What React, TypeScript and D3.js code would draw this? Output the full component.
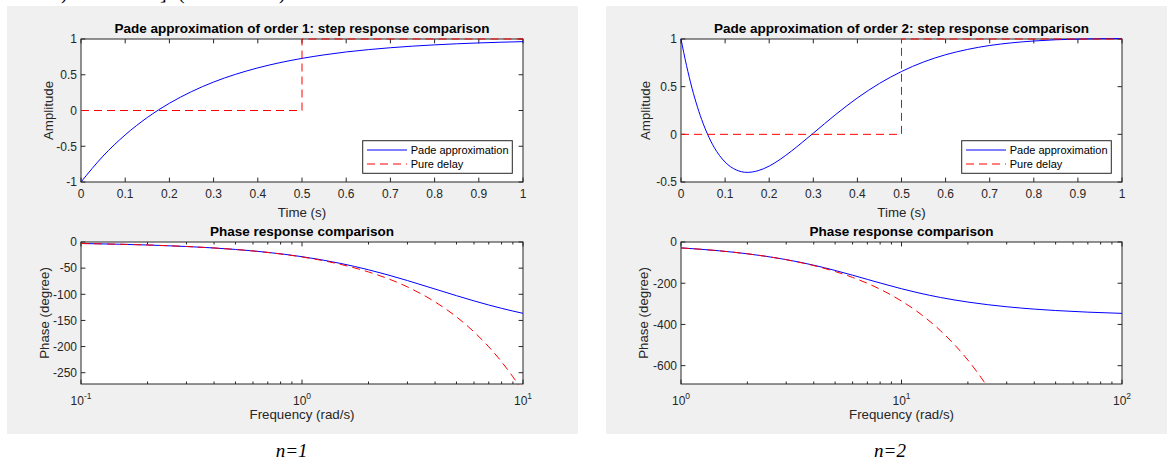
import React from "react";
import * as d3 from "d3";

// ---------- data ----------
const stepTime1 = [0, 0.05, 0.1, 0.15, 0.2, 0.25, 0.3, 0.35, 0.4, 0.45, 0.5, 0.55, 0.6, 0.65, 0.7, 0.75, 0.8, 0.85, 0.9, 0.95, 1.0];
const stepPade1 = [-1, -0.637, -0.341, -0.098, 0.101, 0.264, 0.398, 0.507, 0.596, 0.669, 0.729, 0.778, 0.819, 0.851, 0.878, 0.9, 0.918, 0.933, 0.945, 0.955, 0.963];

const stepTime2 = [0, 0.0125, 0.025, 0.0375, 0.05, 0.06, 0.075, 0.1, 0.125, 0.15, 0.175, 0.2, 0.225, 0.25, 0.275, 0.3, 0.35, 0.4, 0.45, 0.5, 0.55, 0.6, 0.65, 0.7, 0.75, 0.8, 0.85, 0.9, 0.95, 1.0];
const stepPade2 = [1, 0.722, 0.484, 0.284, 0.116, 0.003, -0.135, -0.291, -0.373, -0.399, -0.381, -0.333, -0.262, -0.177, -0.084, 0.012, 0.205, 0.382, 0.534, 0.659, 0.759, 0.835, 0.891, 0.932, 0.96, 0.979, 0.992, 0.999, 1.003, 1.005];

const delayTime = [0, 0.5, 0.5, 1];
const delayAmp = [0, 0, 1, 1];

const freq1 = [0.1, 0.15, 0.2, 0.3, 0.4, 0.5, 0.7, 1, 1.5, 2, 3, 4, 5, 6, 7, 8, 9, 10];
const phasePade1 = [-2.86, -4.3, -5.72, -8.58, -11.42, -14.25, -19.85, -28.07, -41.11, -53.13, -73.74, -90, -102.68, -112.62, -120.51, -126.87, -132.08, -136.4];
const freq1Delay = [0.1, 0.15, 0.2, 0.3, 0.4, 0.5, 0.7, 1, 1.5, 2, 3, 4, 5, 6, 7, 8, 9, 9.5, 10];
const phaseDelay1 = [-2.86, -4.3, -5.73, -8.59, -11.46, -14.32, -20.05, -28.65, -42.97, -57.3, -85.94, -114.59, -143.24, -171.89, -200.54, -229.18, -257.83, -272.16, -286.48];

const freq2 = [1, 1.5, 2, 3, 4, 5, 6, 7, 8, 10, 12, 15, 20, 30, 40, 50, 70, 100];
const phasePade2 = [-28.64, -42.97, -57.23, -85.43, -112.62, -138.06, -161.08, -181.36, -198.92, -226.87, -247.38, -269.05, -291.42, -314.18, -325.63, -332.5, -340.36, -346.25];
const freq2Delay = [1, 1.5, 2, 3, 4, 5, 6, 7, 8, 10, 12, 15, 20, 22, 24, 25];
const phaseDelay2 = [-28.65, -42.97, -57.3, -85.94, -114.59, -143.24, -171.89, -200.54, -229.18, -286.48, -343.77, -429.72, -572.96, -630.26, -687.55, -716.2];

const timeTicks = [0, 0.1, 0.2, 0.3, 0.4, 0.5, 0.6, 0.7, 0.8, 0.9, 1];
const timeTickLabels = ["0", "0.1", "0.2", "0.3", "0.4", "0.5", "0.6", "0.7", "0.8", "0.9", "1"];
const amp1Ticks = [-1, -0.5, 0, 0.5, 1];
const amp1TickLabels = ["-1", "-0.5", "0", "0.5", "1"];
const amp2Ticks = [-0.5, 0, 0.5, 1];
const amp2TickLabels = ["-0.5", "0", "0.5", "1"];
const phase1Ticks = [-250, -200, -150, -100, -50, 0];
const phase1TickLabels = ["-250", "-200", "-150", "-100", "-50", "0"];
const phase2Ticks = [-600, -400, -200, 0];
const phase2TickLabels = ["-600", "-400", "-200", "0"];
const freq1Exps = [-1, 0, 1];
const freq2Exps = [0, 1, 2];

const legendLabels = ["Pade approximation", "Pure delay"];

// ---------- styles ----------
const FONT = '"Liberation Sans", Arial, Helvetica, sans-serif';
const SERIF = '"Liberation Serif", "Times New Roman", serif';
const AX = "#262626";
const BLUE = "#0000ff";
const RED = "#ff0000";
const DASH = "8,5";

type Series = { xs: number[]; ys: number[]; color: string; dash?: string; curve?: boolean };

type AxesProps = {
  id: string;
  x0: number; y0: number; w: number; h: number;
  log?: boolean;
  xDomain: [number, number];
  yDomain: [number, number];
  xTicks?: number[]; xTickLabels?: string[];
  xExps?: number[];
  yTicks: number[]; yTickLabels: string[];
  title: string; xlabel: string; ylabel: string; ylabelX: number;
  series: Series[];
  legend?: boolean;
};

function Axes(p: AxesProps) {
  const { x0, y0, w, h } = p;
  const xs: any = p.log
    ? d3.scaleLog().domain(p.xDomain).range([x0, x0 + w])
    : d3.scaleLinear().domain(p.xDomain).range([x0, x0 + w]);
  const ys = d3.scaleLinear().domain(p.yDomain).range([y0 + h, y0]);
  const TL = 4.4;
  const TLm = 2.5;

  let majorX: number[] = [];
  let minorX: number[] = [];
  if (p.log && p.xExps) {
    majorX = p.xExps.map((e) => Math.pow(10, e));
    for (let i = 0; i < p.xExps.length - 1; i++) {
      const base = Math.pow(10, p.xExps[i]);
      for (let k = 2; k <= 9; k++) minorX.push(base * k);
    }
  } else if (p.xTicks) {
    majorX = p.xTicks;
  }

  const lineGen = (s: Series) => {
    const pts = s.xs.map((x, i) => [xs(x), ys(s.ys[i])] as [number, number]);
    const g = d3.line().curve(s.curve ? d3.curveMonotoneX : d3.curveLinear);
    return g(pts) || "";
  };

  const cx = x0 + w / 2;

  return (
    <g>
      <defs>
        <clipPath id={p.id}>
          <rect x={x0 - 1} y={y0 - 1} width={w + 2} height={h + 2} />
        </clipPath>
      </defs>
      <rect x={x0} y={y0} width={w} height={h} fill="#ffffff" />
      <rect x={x0} y={y0} width={w} height={h} fill="none" stroke={AX} strokeWidth={1} />
      {majorX.map((v, i) => {
        const x = xs(v);
        return (
          <g key={"mx" + i}>
            <line x1={x} x2={x} y1={y0 + h} y2={y0 + h - TL} stroke={AX} />
            <line x1={x} x2={x} y1={y0} y2={y0 + TL} stroke={AX} />
          </g>
        );
      })}
      {minorX.map((v, i) => {
        const x = xs(v);
        return (
          <g key={"nx" + i}>
            <line x1={x} x2={x} y1={y0 + h} y2={y0 + h - TLm} stroke={AX} />
            <line x1={x} x2={x} y1={y0} y2={y0 + TLm} stroke={AX} />
          </g>
        );
      })}
      {p.yTicks.map((v, i) => {
        const y = ys(v);
        return (
          <g key={"y" + i}>
            <line x1={x0} x2={x0 + TL} y1={y} y2={y} stroke={AX} />
            <line x1={x0 + w} x2={x0 + w - TL} y1={y} y2={y} stroke={AX} />
            <text x={x0 - 4} y={y + 4.3} textAnchor="end" fontSize={12} fill={AX} fontFamily={FONT}>
              {p.yTickLabels[i]}
            </text>
          </g>
        );
      })}
      {!p.log && p.xTicks && p.xTicks.map((v, i) => (
        <text key={"xl" + i} x={xs(v)} y={y0 + h + 16.3} textAnchor="middle" fontSize={12} fill={AX} fontFamily={FONT}>
          {p.xTickLabels ? p.xTickLabels[i] : String(v)}
        </text>
      ))}
      {p.log && p.xExps && p.xExps.map((e, i) => (
        <text key={"xe" + i} x={xs(Math.pow(10, e))} y={y0 + h + 21} textAnchor="middle" fontSize={12} fill={AX} fontFamily={FONT}>
          <tspan>10</tspan>
          <tspan dy={-6} fontSize={8.5}>{String(e)}</tspan>
        </text>
      ))}
      <g clipPath={`url(#${p.id})`}>
        {p.series.map((s, i) => (
          <path key={"s" + i} d={lineGen(s)} fill="none" stroke={s.color} strokeWidth={1} strokeDasharray={s.dash} />
        ))}
      </g>
      <text x={cx} y={y0 - 5.9} textAnchor="middle" fontSize={13.5} fontWeight="bold" fill="#000" fontFamily={FONT}>
        {p.title}
      </text>
      <text x={cx} y={y0 + h + 34.8} textAnchor="middle" fontSize={13.3} fill={AX} fontFamily={FONT}>
        {p.xlabel}
      </text>
      <text
        transform={`translate(${p.ylabelX},${y0 + h / 2}) rotate(-90)`}
        textAnchor="middle"
        fontSize={13.3}
        fill={AX}
        fontFamily={FONT}
      >
        {p.ylabel}
      </text>
      {p.legend && (
        <g>
          <rect x={x0 + w - 160.3} y={y0 + h - 41.3} width={149.6} height={32.6} fill="#ffffff" stroke={AX} strokeWidth={1} />
          <line x1={x0 + w - 156} x2={x0 + w - 116} y1={y0 + h - 32} y2={y0 + h - 32} stroke={BLUE} />
          <line x1={x0 + w - 156} x2={x0 + w - 116} y1={y0 + h - 18} y2={y0 + h - 18} stroke={RED} strokeDasharray={DASH} />
          <text x={x0 + w - 112.3} y={y0 + h - 28} fontSize={11} fill="#000" fontFamily={FONT}>{legendLabels[0]}</text>
          <text x={x0 + w - 112.3} y={y0 + h - 14} fontSize={11} fill="#000" fontFamily={FONT}>{legendLabels[1]}</text>
        </g>
      )}
    </g>
  );
}

export default function App() {
  const W = 1167;
  const H = 459;
  return (
    <div style={{ position: "absolute", left: 0, top: 0, width: W, height: H, background: "#fff" }}>
      <svg width={W} height={H} style={{ display: "block" }}>
        <rect x={0} y={0} width={W} height={H} fill="#ffffff" />
        {/* cut-off text above the figure */}
        <g fontFamily={SERIF} fontSize={20} fill="#000">
          <text x={61} y={-1}>)</text>
          <text x={160} y={-1}>]</text>
          <text x={178} y={-1}>(</text>
          <text x={279} y={-1}>)</text>
        </g>
        <rect x={7} y={6} width={571} height={428} fill="#f0f0f0" />
        <rect x={606} y={6} width={561} height={428} fill="#f0f0f0" />

        <Axes
          id="c1"
          x0={81} y0={39} w={442} h={143}
          xDomain={[0, 1]} yDomain={[-1, 1]}
          xTicks={timeTicks} xTickLabels={timeTickLabels}
          yTicks={amp1Ticks} yTickLabels={amp1TickLabels}
          title="Pade approximation of order 1: step response comparison"
          xlabel="Time (s)" ylabel="Amplitude" ylabelX={52.8}
          series={[
            { xs: stepTime1, ys: stepPade1, color: BLUE, curve: true },
            { xs: delayTime, ys: delayAmp, color: RED, dash: DASH },
          ]}
          legend
        />
        <Axes
          id="c2"
          x0={81} y0={242} w={442} h={142}
          log
          xDomain={[0.1, 10]} yDomain={[-271.6, 0]}
          xExps={freq1Exps}
          yTicks={phase1Ticks} yTickLabels={phase1TickLabels}
          title="Phase response comparison"
          xlabel="Frequency (rad/s)" ylabel="Phase (degree)" ylabelX={48.5}
          series={[
            { xs: freq1, ys: phasePade1, color: BLUE, curve: true },
            { xs: freq1Delay, ys: phaseDelay1, color: RED, dash: DASH, curve: true },
          ]}
        />
        <Axes
          id="c3"
          x0={681} y0={39} w={441} h={143}
          xDomain={[0, 1]} yDomain={[-0.5, 1]}
          xTicks={timeTicks} xTickLabels={timeTickLabels}
          yTicks={amp2Ticks} yTickLabels={amp2TickLabels}
          title="Pade approximation of order 2: step response comparison"
          xlabel="Time (s)" ylabel="Amplitude" ylabelX={650}
          series={[
            { xs: stepTime2, ys: stepPade2, color: BLUE, curve: true },
            { xs: delayTime, ys: delayAmp, color: RED, dash: DASH },
          ]}
          legend
        />
        <Axes
          id="c4"
          x0={681} y0={242} w={441} h={142}
          log
          xDomain={[1, 100]} yDomain={[-689, 0]}
          xExps={freq2Exps}
          yTicks={phase2Ticks} yTickLabels={phase2TickLabels}
          title="Phase response comparison"
          xlabel="Frequency (rad/s)" ylabel="Phase (degree)" ylabelX={647.5}
          series={[
            { xs: freq2, ys: phasePade2, color: BLUE, curve: true },
            { xs: freq2Delay, ys: phaseDelay2, color: RED, dash: DASH, curve: true },
          ]}
        />

        <text x={291.7} y={456.5} textAnchor="middle" fontFamily={SERIF} fontStyle="italic" fontSize={19} fill="#000">n=1</text>
        <text x={890} y={456.5} textAnchor="middle" fontFamily={SERIF} fontStyle="italic" fontSize={19} fill="#000">n=2</text>
      </svg>
    </div>
  );
}
